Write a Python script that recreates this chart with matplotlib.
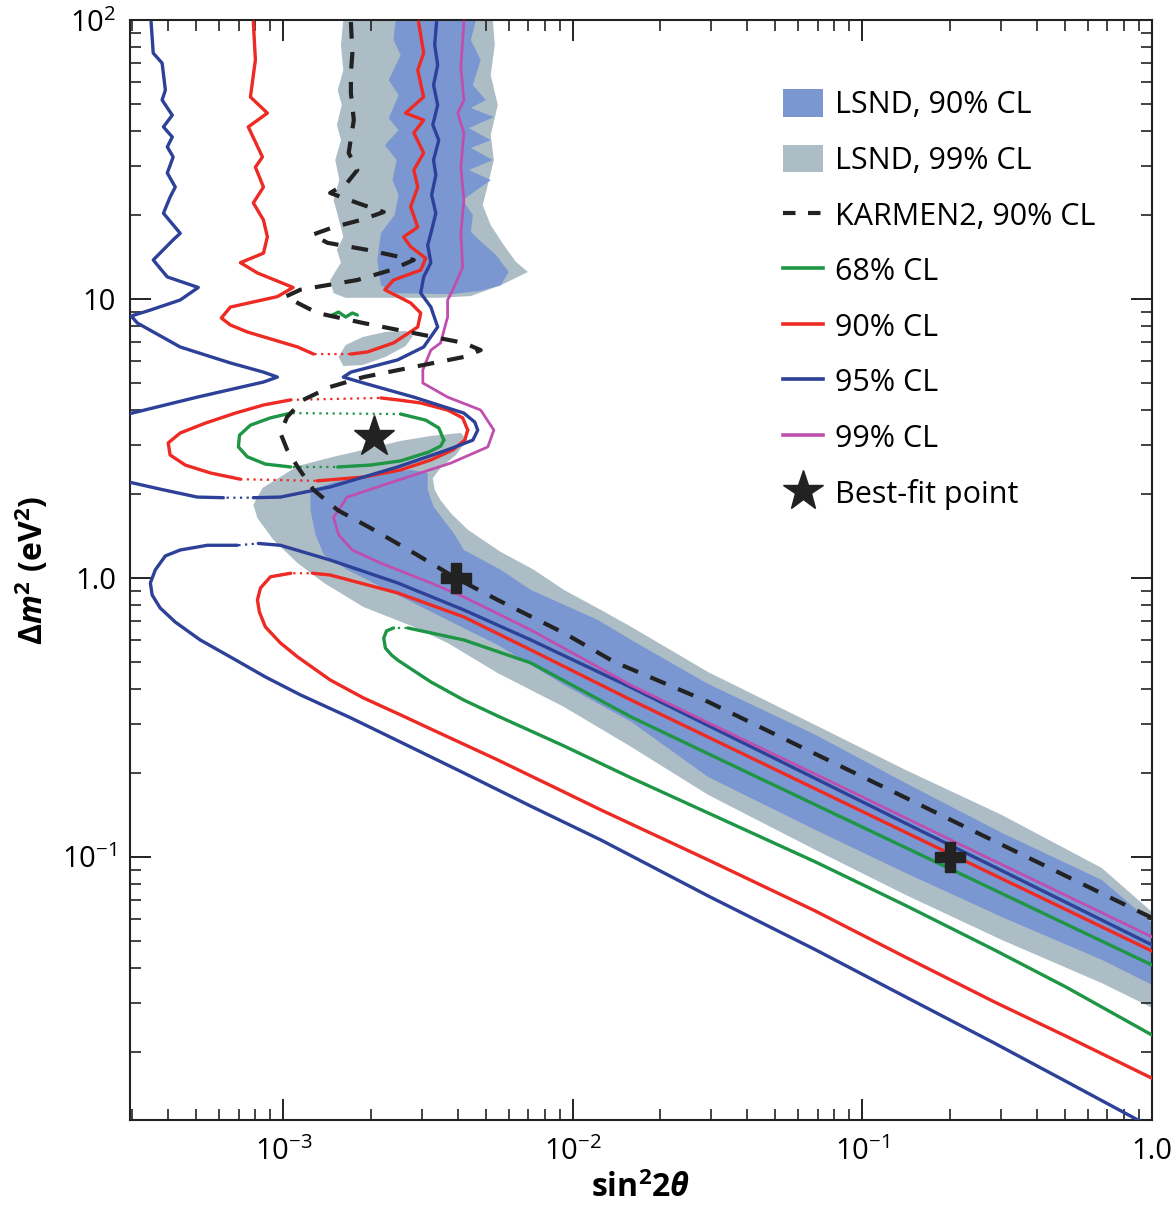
import numpy as np
import matplotlib.pyplot as plt
from matplotlib.patches import Patch
from matplotlib.lines import Line2D

plt.rcParams['font.family'] = ['Open Sans', 'DejaVu Sans']
plt.rcParams['mathtext.fontset'] = 'custom'
plt.rcParams['mathtext.rm'] = 'Open Sans'
plt.rcParams['mathtext.it'] = 'Open Sans:italic'
plt.rcParams['mathtext.bf'] = 'Open Sans:bold'
plt.rcParams['mathtext.bfit'] = 'Open Sans:bold:italic'

nan = np.nan

# ---- LSND allowed regions (99% CL, grey) ----
lsnd99_top_x = [1.61e-3, 1.58e-3, 1.61e-3, 1.54e-3, 1.59e-3, 1.53e-3, 1.58e-3, 1.51e-3, 1.56e-3, 1.49e-3,
                1.54e-3, 1.61e-3, 1.53e-3, 1.58e-3, 1.45e-3, 1.49e-3, 1.64e-3, 2.54e-3, 3.49e-3, 4.44e-3,
                5.63e-3, 6.99e-3, 6.35e-3, 5.77e-3, 5.20e-3, 4.88e-3, 5.08e-3, 5.33e-3, 5.20e-3, 5.50e-3,
                5.20e-3, 5.37e-3, 5.29e-3]
lsnd99_top_y = [100, 81.4, 66.2, 56.1, 49.6, 42.1, 37.1, 31.5, 26.7, 22.6,
                20.0, 16.7, 15.0, 13.5, 11.7, 10.5, 10.1, 10.1, 10.1, 10.25,
                11.2, 12.5, 13.6, 15.6, 18.4, 21.7, 25.6, 31.5, 38.7, 49.6,
                63.5, 81.4, 100]
lsnd99_isl_x = [1.55e-3, 1.64e-3, 1.88e-3, 2.25e-3, 2.64e-3, 2.80e-3, 2.64e-3, 2.25e-3, 1.88e-3, 1.61e-3]
lsnd99_isl_y = [6.20, 6.84, 7.31, 7.62, 7.68, 7.37, 6.78, 6.20, 5.80, 5.75]
lsnd99_low_x = [7.87e-4, 8.46e-4, 1.12e-3, 1.49e-3, 1.89e-3, 2.54e-3, 3.23e-3, 4.10e-3, 4.30e-3, 3.94e-3,
                3.49e-3, 3.28e-3, 3.33e-3, 3.49e-3, 3.78e-3, 4.33e-3, 5.63e-3, 7.33e-3, 9.31e-3, 0.0125,
                0.0159, 0.0293, 0.0688, 0.141, 0.303, 0.671, 1.0, 1.0, 0.671, 0.303,
                0.141, 0.0688, 0.0293, 0.0159, 9.31e-3, 5.50e-3, 3.69e-3, 2.82e-3, 1.89e-3, 1.38e-3,
                1.12e-3, 9.23e-4, 8.13e-4]
lsnd99_low_y = [1.83, 2.10, 2.52, 2.72, 2.88, 3.10, 3.23, 3.31, 3.12, 2.76,
                2.48, 2.28, 2.07, 1.90, 1.71, 1.49, 1.24, 1.07, 0.906, 0.768,
                0.668, 0.460, 0.297, 0.205, 0.1414, 0.0913, 0.0635, 0.0288, 0.0353, 0.0504,
                0.0731, 0.106, 0.167, 0.248, 0.345, 0.456, 0.585, 0.668, 0.787, 0.960,
                1.13, 1.37, 1.64]

# ---- LSND allowed regions (90% CL, blue) ----
lsnd90_top_x = [2.44e-3, 2.40e-3, 2.54e-3, 2.31e-3, 2.50e-3, 2.31e-3, 2.50e-3, 2.24e-3, 2.46e-3, 2.38e-3,
                2.50e-3, 2.42e-3, 2.17e-3, 2.11e-3, 2.17e-3, 2.44e-3, 3.78e-3, 4.80e-3, 5.63e-3, 6.00e-3,
                5.42e-3, 4.73e-3, 4.44e-3, 4.51e-3, 4.16e-3, 5.20e-3, 4.37e-3, 5.29e-3, 4.44e-3, 5.20e-3,
                4.37e-3, 5.33e-3, 4.44e-3, 5.00e-3, 4.51e-3, 4.80e-3, 4.44e-3, 4.62e-3]
lsnd90_top_y = [100, 84.8, 74.9, 60.9, 53.8, 44.5, 40.3, 35.6, 31.5, 26.7,
                23.6, 20.0, 17.2, 13.8, 11.2, 10.5, 10.4, 10.7, 11.2, 12.5,
                14.4, 16.3, 17.4, 20.0, 22.6, 26.7, 29.0, 31.5, 34.8, 37.1,
                41.0, 44.9, 48.4, 51.7, 58.5, 71.9, 84.8, 100]
lsnd90_low_x = [1.24e-3, 1.51e-3, 2.00e-3, 2.75e-3, 3.15e-3, 3.15e-3, 3.30e-3, 3.87e-3, 4.20e-3, 5.63e-3,
                7.16e-3, 0.0122, 0.0159, 0.0293, 0.0688, 0.141, 0.303, 0.671, 1.0, 1.0,
                0.671, 0.303, 0.141, 0.0688, 0.0293, 0.0159, 9.31e-3, 5.50e-3, 2.48e-3, 1.66e-3,
                1.38e-3, 1.29e-3, 1.24e-3]
lsnd90_low_y = [2.07, 2.21, 2.34, 2.44, 2.38, 2.07, 1.80, 1.45, 1.26, 1.07,
                0.906, 0.707, 0.5995, 0.417, 0.274, 0.184, 0.122, 0.0827, 0.0580, 0.0348,
                0.0428, 0.0609, 0.0876, 0.125, 0.1935, 0.305, 0.414, 0.575, 0.869, 1.07,
                1.21, 1.43, 1.75]

# ---- KARMEN2 90% CL ----
karmen_x = [1.71e-3, 1.73e-3, 1.71e-3, 1.71e-3, 1.75e-3, 1.68e-3, 1.80e-3, 1.66e-3, 1.45e-3, 1.80e-3,
            2.22e-3, 1.85e-3, 1.49e-3, 1.26e-3, 1.42e-3, 1.95e-3, 2.82e-3, 2.35e-3, 1.80e-3, 1.145e-3,
            1.016e-3, 1.12e-3, 1.31e-3, 1.89e-3, 2.82e-3, 4.20e-3, 4.80e-3, 4.20e-3, 2.82e-3, 1.89e-3,
            1.45e-3, 1.17e-3, 1.03e-3, 9.76e-4, 1.03e-3, 1.12e-3, 1.27e-3, 1.54e-3, 2.00e-3, 2.82e-3,
            3.94e-3, 5.50e-3, 9.31e-3, 0.0139, 0.0293, 0.0688, 0.141, 0.215, 0.381, 0.775, 1.0]
karmen_y = [98.4, 76.1, 64.6, 54.7, 43.8, 33.4, 29.0, 26.1, 24.0, 22.1,
            20.5, 19.2, 18.1, 17.0, 15.9, 15.0, 13.8, 12.7, 11.7, 10.8,
            10.2, 9.68, 8.91, 8.20, 7.55, 6.96, 6.56, 6.20, 5.71, 5.25,
            4.84, 4.35, 3.78, 3.31, 2.88, 2.50, 2.07, 1.75, 1.51, 1.23,
            1.00, 0.834, 0.635, 0.500, 0.360, 0.234, 0.163, 0.1315, 0.0985, 0.0688, 0.0605]

# ---- 68% CL (green) ----
cl68_a_x = [1.45e-3, 1.55e-3, 1.64e-3, 1.73e-3, 1.80e-3]
cl68_a_y = [8.69, 8.98, 8.62, 8.91, 8.76]
cl68_b_x = [3.58e-3, 3.44e-3, 3.10e-3, 2.54e-3, nan, 1.06e-3, 9.02e-4, 7.69e-4, 7.05e-4, 6.99e-4,
            7.50e-4, 8.66e-4, 1.06e-3, nan, 1.54e-3, 2.00e-3, 2.54e-3, 3.18e-3, 3.49e-3, 3.58e-3]
cl68_b_y = [3.12, 3.45, 3.68, 3.87, nan, 3.90, 3.75, 3.53, 3.25, 2.95,
            2.72, 2.56, 2.50, nan, 2.50, 2.54, 2.63, 2.83, 2.97, 3.12]
cl68_c_x = [1.0, 0.504, 0.286, 0.141, 0.0688, 0.0293, 0.0159, 7.16e-3, 4.20e-3, 2.69e-3,
            nan, 2.40e-3, 2.27e-3, 2.22e-3, 2.25e-3, 2.36e-3, 2.48e-3, 3.23e-3, 4.20e-3, 5.50e-3,
            9.31e-3, 0.0159, 0.0293, 0.0688, 0.141, 0.286, 0.504, 1.0]
cl68_c_y = [0.0410, 0.0575, 0.0761, 0.108, 0.1538, 0.2345, 0.3175, 0.496, 0.5995, 0.662,
            nan, 0.662, 0.646, 0.609, 0.561, 0.530, 0.508, 0.424, 0.365, 0.320,
            0.250, 0.192, 0.1438, 0.096, 0.0670, 0.0464, 0.0342, 0.0230]

# ---- 90% CL (red) ----
cl90_a_x = [7.87e-4, 8.00e-4, 7.69e-4, 8.80e-4, 7.56e-4, 8.46e-4, 8.00e-4, 8.53e-4, 7.87e-4, 8.53e-4,
            8.80e-4, 8.53e-4, 7.10e-4, 8.13e-4, 1.08e-3, 9.53e-4, 6.56e-4, 6.10e-4, 6.56e-4, 7.50e-4,
            1.12e-3, 1.27e-3, nan, 1.71e-3, 1.95e-3, 2.40e-3, 2.91e-3, 2.98e-3, 2.75e-3, 2.24e-3,
            2.40e-3, 2.98e-3, 3.10e-3, 2.75e-3, 2.60e-3, 2.91e-3, 2.75e-3, 2.91e-3, 2.82e-3, 3.05e-3,
            2.82e-3, 3.05e-3, 2.64e-3, 3.05e-3, 2.91e-3, 3.05e-3, 2.93e-3]
cl90_a_y = [98.4, 71.9, 53.0, 46.4, 41.4, 32.3, 29.7, 25.2, 22.1, 19.2,
            16.7, 14.6, 13.5, 12.4, 11.0, 10.2, 9.36, 8.55, 8.07, 7.62,
            6.73, 6.35, nan, 6.35, 6.46, 6.96, 7.94, 8.91, 9.68, 10.8,
            11.7, 12.7, 14.0, 15.4, 16.7, 18.1, 21.4, 25.2, 29.0, 33.4,
            39.4, 43.8, 46.4, 53.0, 66.2, 76.1, 98.4]
cl90_b_x = [4.33e-3, 4.16e-3, 3.69e-3, 2.98e-3, 2.48e-3, 2.17e-3, nan, 1.06e-3, 8.53e-4, 6.82e-4,
            5.37e-4, 4.40e-4, 4.00e-4, 4.06e-4, 4.58e-4, 5.59e-4, 7.10e-4, nan, 1.31e-3, 1.89e-3,
            2.54e-3, 3.23e-3, 3.85e-3, 4.23e-3, 4.33e-3]
cl90_b_y = [3.39, 3.75, 4.00, 4.24, 4.35, 4.42, nan, 4.35, 4.17, 3.90,
            3.59, 3.31, 3.05, 2.76, 2.54, 2.38, 2.26, nan, 2.23, 2.30,
            2.44, 2.65, 2.88, 3.12, 3.39]
cl90_c_x = [1.0, 0.504, 0.286, 0.141, 0.0688, 0.0293, 0.0159, 7.16e-3, 4.20e-3, 2.48e-3,
            1.45e-3, 1.26e-3, nan, 1.06e-3, 9.02e-4, 8.33e-4, 8.13e-4, 8.26e-4, 8.66e-4, 9.76e-4,
            1.12e-3, 1.45e-3, 1.89e-3, 2.54e-3, 3.23e-3, 5.50e-3, 9.31e-3, 0.0125, 0.0293, 0.0688,
            0.141, 0.286, 0.504, 1.0]
cl90_c_y = [0.0460, 0.0648, 0.0860, 0.1225, 0.1754, 0.269, 0.365, 0.552, 0.725, 0.884,
            1.025, 1.04, nan, 1.04, 1.01, 0.921, 0.834, 0.755, 0.668, 0.585,
            0.521, 0.431, 0.3715, 0.323, 0.2875, 0.2227, 0.171, 0.1474, 0.0976, 0.0640,
            0.0437, 0.0302, 0.0228, 0.0161]

# ---- 95% CL (blue) ----
cl95_a_x = [3.49e-4, 3.55e-4, 3.81e-4, 3.91e-4, 3.81e-4, 4.13e-4, 3.85e-4, 4.13e-4, 3.97e-4, 4.16e-4,
            3.97e-4, 4.23e-4, 4.06e-4, 3.85e-4, 4.40e-4, 4.16e-4, 3.55e-4, 3.97e-4, 5.08e-4, 4.40e-4,
            3.47e-4, 2.98e-4, 3.13e-4, 4.40e-4, 6.56e-4, 8.53e-4, 9.53e-4, 8.53e-4, 5.04e-4, 2.91e-4]
cl95_a_y = [98.4, 76.1, 70.1, 56.1, 51.7, 45.6, 41.4, 38.1, 35.1, 32.3,
            28.3, 25.2, 23.2, 20.3, 17.2, 16.3, 13.8, 12.0, 11.0, 9.92,
            9.13, 8.69, 8.20, 6.73, 5.90, 5.47, 5.25, 5.04, 4.45, 3.87]
cl95_b_x = [2.91e-4, 3.85e-4, 5.04e-4, 6.20e-4, nan, 7.87e-4, 9.76e-4, 1.45e-3, 2.48e-3, 3.69e-3,
            4.51e-3, 4.69e-3, 4.58e-3, 4.20e-3, 2.82e-3, 1.89e-3, 1.61e-3, 1.71e-3, 2.48e-3, 3.05e-3,
            3.41e-3, 3.23e-3, 2.98e-3, 3.05e-3, 3.23e-3, 3.15e-3, 3.23e-3, 3.36e-3, 3.25e-3, 3.36e-3,
            3.30e-3, 3.44e-3, 3.28e-3, 3.41e-3, 3.30e-3, 3.41e-3, 3.33e-3, 3.38e-3]
cl95_b_y = [2.21, 2.07, 1.95, 1.94, nan, 1.94, 1.95, 2.12, 2.50, 2.88,
            3.12, 3.39, 3.62, 3.90, 4.45, 5.00, 5.25, 5.47, 6.05, 6.73,
            7.94, 9.36, 10.5, 12.0, 13.5, 15.6, 17.2, 20.3, 23.6, 27.8,
            31.5, 37.1, 42.1, 49.6, 58.5, 69.0, 81.4, 98.4]
cl95_c_x = [1.0, 0.504, 0.286, 0.141, 0.0688, 0.0293, 0.0159, 7.16e-3, 4.20e-3, 2.48e-3,
            1.45e-3, 9.76e-4, 8.19e-4, nan, 6.93e-4, 5.46e-4, 4.40e-4, 3.91e-4, 3.61e-4, 3.47e-4,
            3.52e-4, 3.75e-4, 4.23e-4, 5.16e-4, 6.56e-4, 8.66e-4, 1.145e-3, 1.71e-3, 2.54e-3, 4.20e-3,
            7.16e-3, 0.0125, 0.0293, 0.0688, 0.141, 0.286, 0.504, 0.895, 1.08]
cl95_c_y = [0.0484, 0.0688, 0.0920, 0.132, 0.191, 0.296, 0.405, 0.5995, 0.768, 0.960,
            1.16, 1.31, 1.33, nan, 1.31, 1.31, 1.26, 1.20, 1.07, 0.960,
            0.869, 0.781, 0.695, 0.5995, 0.521, 0.442, 0.381, 0.315, 0.258, 0.200,
            0.152, 0.115, 0.0725, 0.0465, 0.0315, 0.0215, 0.0157, 0.0114, 0.0101]

# ---- 99% CL (magenta) ----
cl99_x = [4.20e-3, 4.10e-3, 4.20e-3, 4.00e-3, 4.20e-3, 4.10e-3, 4.20e-3, 4.10e-3, 4.16e-3, 3.85e-3,
          3.69e-3, 3.69e-3, 3.49e-3, 3.23e-3, 3.03e-3, 3.03e-3, 3.69e-3, 4.80e-3, 5.33e-3, 5.08e-3,
          3.78e-3, 2.48e-3, 1.66e-3, 1.49e-3, 1.55e-3, 1.73e-3, 2.17e-3, 3.23e-3, 4.20e-3, 7.16e-3,
          0.0159, 0.0293, 0.0688, 0.141, 0.215, 0.381, 1.0]
cl99_y = [98.4, 67.9, 51.7, 46.4, 39.4, 29.7, 22.6, 17.2, 13.0, 10.8,
          9.92, 8.62, 6.96, 6.56, 5.57, 5.00, 4.45, 4.00, 3.39, 2.95,
          2.58, 2.24, 1.95, 1.65, 1.43, 1.26, 1.13, 0.960, 0.855, 0.651,
          0.412, 0.303, 0.198, 0.138, 0.1115, 0.0838, 0.0517]

best_fit = (2.05e-3, 3.2)
cross_x = [3.94e-3, 0.2]
cross_y = [1.0, 0.1]

c99 = '#adbdc6'
c90 = '#7b97d1'
green = '#1e9646'
red = '#ee2a24'
blue = '#2d4199'
magenta = '#bf4fae'
black = '#222222'

fig = plt.figure(figsize=(11.75, 12.08), dpi=100)
ax = fig.add_axes([0.1106, 0.0728, 0.8698, 0.9106])
ax.set_xscale('log')
ax.set_yscale('log')

for xs, ys in [(lsnd99_top_x, lsnd99_top_y), (lsnd99_isl_x, lsnd99_isl_y), (lsnd99_low_x, lsnd99_low_y)]:
    ax.fill(xs, ys, color=c99, lw=0, zorder=1)
for xs, ys in [(lsnd90_top_x, lsnd90_top_y), (lsnd90_low_x, lsnd90_low_y)]:
    ax.fill(xs, ys, color=c90, lw=0, zorder=2)


def contour(xs, ys, color, lw):
    # dotted underlay where the contour is broken, solid line on top
    xs = np.array(xs)
    ys = np.array(ys)
    ok = ~np.isnan(xs)
    ax.plot(xs[ok], ys[ok], color=color, lw=1.6, ls=(0, (1, 2)), zorder=3)
    ax.plot(xs, ys, color=color, lw=lw, zorder=4, solid_capstyle='round', solid_joinstyle='round')


for xs, ys in [(cl68_a_x, cl68_a_y), (cl68_b_x, cl68_b_y), (cl68_c_x, cl68_c_y)]:
    contour(xs, ys, green, 2.4)
for xs, ys in [(cl90_a_x, cl90_a_y), (cl90_b_x, cl90_b_y), (cl90_c_x, cl90_c_y)]:
    contour(xs, ys, red, 2.4)
for xs, ys in [(cl95_a_x, cl95_a_y), (cl95_b_x, cl95_b_y), (cl95_c_x, cl95_c_y)]:
    contour(xs, ys, blue, 2.4)
ax.plot(cl99_x, cl99_y, color=magenta, lw=2.0, zorder=4, solid_joinstyle='round')
ax.plot(karmen_x, karmen_y, color=black, lw=3.0, ls=(0, (4, 3.2)), zorder=5)

ax.plot(*best_fit, marker='*', color=black, markersize=31, ls='none', zorder=6)
ax.plot(cross_x, cross_y, marker='P', color=black, markersize=21, ls='none', zorder=6)

ax.set_xlim(2.95e-4, 1.0)
ax.set_ylim(0.0114, 100)
ax.set_xticks([1e-3, 1e-2, 1e-1, 1.0])
ax.set_xticklabels([r'$10^{-3}$', r'$10^{-2}$', r'$10^{-1}$', '1.0'])
ax.set_yticks([0.1, 1.0, 10, 100])
ax.set_yticklabels([r'$10^{-1}$', '1.0', '10', r'$10^{2}$'])
ax.tick_params(which='both', direction='in', top=True, right=True, labelsize=21, color='#222')
ax.tick_params(which='major', length=15, width=1.4)
ax.tick_params(which='minor', length=8, width=1.2)
ax.tick_params(axis='x', pad=12)
ax.tick_params(axis='y', pad=10)
for s in ax.spines.values():
    s.set_linewidth(1.5)
    s.set_color('#222')

ax.set_xlabel(r'$\mathbf{sin^2 2}\mathbfit{\theta}$', fontsize=23, labelpad=4)
ax.set_ylabel(r'$\mathbf{\Delta}\mathbfit{m}^{\mathbf{2}}\ \mathbf{(eV^2)}$', fontsize=23, labelpad=8)

handles = [
    Patch(color=c90, lw=0),
    Patch(color=c99, lw=0),
    Line2D([], [], color=black, lw=3.0, ls=(0, (3, 3))),
    Line2D([], [], color=green, lw=2.6),
    Line2D([], [], color=red, lw=2.6),
    Line2D([], [], color=blue, lw=2.6),
    Line2D([], [], color=magenta, lw=2.6),
    Line2D([], [], color=black, marker='*', ls='none', markersize=30),
]
labels = ['LSND, 90% CL', 'LSND, 99% CL', 'KARMEN2, 90% CL', '68% CL', '90% CL', '95% CL',
          '99% CL', 'Best-fit point']
ax.legend(handles, labels, loc='upper left', bbox_to_anchor=(0.612, 0.962), frameon=False,
          fontsize=22, handlelength=1.3, handleheight=1.0, handletextpad=0.4, labelspacing=0.8)

fig.savefig('out.png', dpi=100)
